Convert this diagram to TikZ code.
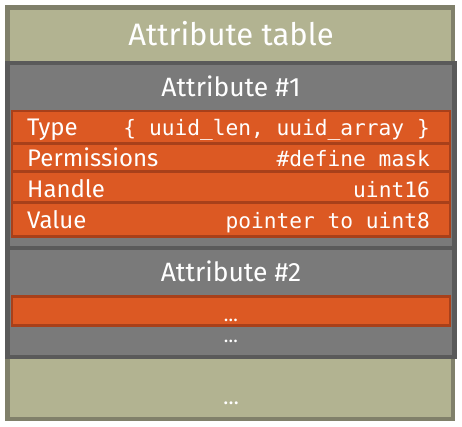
\documentclass[tikz,border=0pt]{standalone}
\usepackage{fontspec}
\setmainfont{Fira Sans}
\setmonofont{DejaVu Sans Mono}
\definecolor{olivefill}{HTML}{B2B391}
\definecolor{olivedraw}{HTML}{80806A}
\definecolor{grayfill}{HTML}{7A7A7A}
\definecolor{graydraw}{HTML}{5A5A5A}
\definecolor{rowfill}{HTML}{DC5923}
\definecolor{rowdraw}{HTML}{A8401A}
\begin{document}
\begin{tikzpicture}[x=1pt,y=-1pt,
    tablebox/.style={draw=olivedraw,fill=olivefill,line width=4.5pt,minimum width=445.5pt,minimum height=411.5pt,inner sep=0pt},
    attrbox/.style={draw=graydraw,fill=grayfill,line width=4.5pt,minimum width=447pt,inner sep=0pt},
    rowbox/.style={draw=rowdraw,fill=rowfill,line width=2.5pt,minimum width=438pt,inner sep=0pt},
    title/.style={text=white,font=\fontsize{31}{36}\selectfont,inner sep=0pt},
    head/.style={text=white,font=\fontsize{26.5}{30}\selectfont,inner sep=0pt},
    key/.style={text=white,font=\fontsize{24}{28}\selectfont,inner sep=0pt,anchor=base west},
    val/.style={text=white,font=\fontsize{21.2}{25}\ttfamily,inner sep=0pt,anchor=base east},
    dots/.style={text=white,font=\fontsize{19}{21}\selectfont,inner sep=0pt,anchor=base}]
  \useasboundingbox (0,0) rectangle (462,426);
  \node[tablebox] (table) at (230.25,213.25) {};
  \node[title,anchor=base] (tabletitle) at (231,45) {Attribute table};
  \node[attrbox,minimum height=185pt] (attr1) at (231,155.5) {};
  \node[attrbox,minimum height=109pt] (attr2) at (231,302.5) {};
  \node[head,anchor=base] (attr1title) at (231,96) {Attribute \#1};
  \node[rowbox,minimum height=32.5pt] (type) at (231,127.25) {};
  \node[rowbox,minimum height=28pt] (perm) at (231,157.5) {};
  \node[rowbox,minimum height=31pt] (handle) at (231,187) {};
  \node[rowbox,minimum height=34pt] (value) at (231,219.5) {};
  \node[key] (typekey) at (27,135) {Type};
  \node[val] (typeval) at (430,135) {\{ uuid\_len, uuid\_array \}};
  \node[key] (permkey) at (27,166) {Permissions};
  \node[val] (permval) at (430,166) {\#define mask};
  \node[key] (handlekey) at (27,197) {Handle};
  \node[val] (handleval) at (430,197) {uint16};
  \node[key] (valuekey) at (27,228) {Value};
  \node[val] (valueval) at (430,228) {pointer to uint8};
  \node[head,anchor=base] (attr2title) at (231,281) {Attribute \#2};
  \node[rowbox,minimum height=29pt] (more) at (231,311) {};
  \node[dots] (moredots) at (231,321) {\ldots};
  \node[dots] (attr2dots) at (231,342) {\ldots};
  \node[dots,font=\fontsize{21}{24}\selectfont] (tabledots) at (231,404) {\ldots};
\end{tikzpicture}
\end{document}
